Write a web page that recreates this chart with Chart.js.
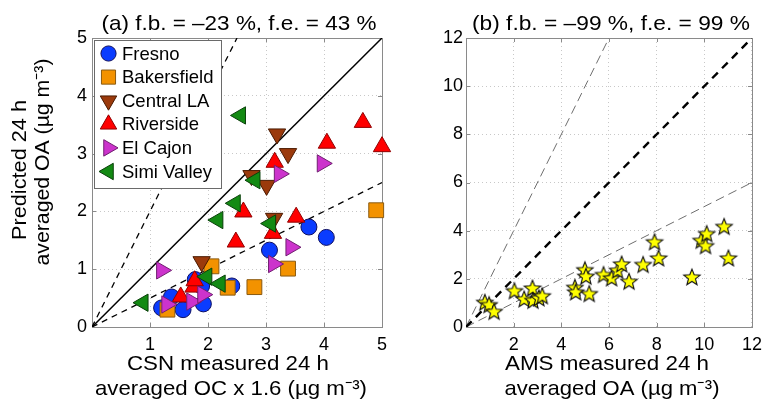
<!DOCTYPE html>
<html>
<head>
<meta charset="utf-8">
<script src="https://cdn.jsdelivr.net/npm/chart.js@4"></script>
<style>
body { margin: 0; background: #fff; }
#wrap { position: relative; width: 769px; height: 405px; }
#wrap canvas { position: absolute; left: 0; top: 0; }
</style>
</head>
<body>
<div id="wrap">
  <canvas id="chartA" width="769" height="405"></canvas>
  <canvas id="chartB" width="769" height="405"></canvas>
</div>
<script>
// ---- data ----
const siteNames = ['Fresno', 'Bakersfield', 'Central LA', 'Riverside', 'El Cajon', 'Simi Valley'];

const fresnoX = [1.20, 1.37, 1.57, 1.92, 1.78, 1.89, 2.41, 3.06, 3.74, 4.04];
const fresnoY = [0.33, 0.52, 0.30, 0.40, 0.82, 0.71, 0.71, 1.33, 1.73, 1.55];
const bakersfieldX = [1.30, 2.06, 2.34, 2.80, 3.38, 4.90];
const bakersfieldY = [0.30, 1.05, 0.68, 0.69, 1.01, 2.02];
const centralLAX = [1.89, 2.75, 3.01, 3.19, 3.38, 3.14];
const centralLAY = [1.13, 2.62, 2.45, 3.34, 3.00, 1.88];
const riversideX = [1.53, 1.75, 1.77, 2.48, 2.61, 3.12, 3.15, 3.52, 4.05, 4.67, 5.00];
const riversideY = [0.52, 0.69, 0.80, 1.47, 1.99, 1.62, 2.85, 1.90, 3.18, 3.54, 3.12];
const elCajonX = [1.20, 1.29, 1.72, 1.91, 3.13, 3.43, 3.23, 3.97];
const elCajonY = [0.98, 0.39, 0.44, 0.56, 1.09, 1.38, 2.65, 2.83];
const simiX = [0.88, 1.98, 2.21, 2.17, 2.47, 2.56, 2.81, 3.08];
const simiY = [0.42, 0.87, 0.75, 1.85, 2.14, 3.66, 2.54, 1.79];

const amsX = [0.79, 0.97, 1.18, 2.03, 2.44, 2.79, 2.81, 3.06, 3.20, 4.57, 4.60, 4.99, 5.03, 5.17,
              5.77, 6.11, 6.36, 6.53, 6.84, 7.43, 7.91, 8.08, 9.48, 9.87, 10.05, 10.10, 10.83, 11.01];
const predY = [1.03, 0.93, 0.65, 1.51, 1.17, 1.62, 1.11, 1.21, 1.30, 1.65, 1.46, 2.38, 2.11, 1.39,
               2.18, 2.04, 2.36, 2.62, 1.90, 2.60, 3.54, 2.87, 2.08, 3.60, 3.38, 3.88, 4.18, 2.87];

// reference lines as ratios predicted/measured
const refRatios = [1, 2, 0.5];

const ticksA = [0, 1, 2, 3, 4, 5];
const ticksB = [0, 2, 4, 6, 8, 10, 12];

const titleA = '(a) f.b. = \u201323 %, f.e. = 43 %';
const titleB = '(b) f.b. = \u201399 %, f.e. = 99 %';
const xTitleA = ['CSN measured 24 h', 'averaged OC x 1.6 (\u00b5g m\u207b\u00b3)'];
const xTitleB = ['AMS measured 24 h', 'averaged OA (\u00b5g m\u207b\u00b3)'];
const yTitleA = ['Predicted 24 h', 'averaged OA (\u00b5g m\u207b\u00b3)'];

// ---- styling ----
const FONT = "'Liberation Sans', Arial, Helvetica, sans-serif";
const markers = [
  { style: 'circle',   rot: 0,   r: 8,    fill: '#0a3cff', edge: '#101060' },
  { style: 'rect',     rot: 0,   r: 10.5, fill: '#f39200', edge: '#8a5a10' },
  { style: 'triangle', rot: 180, r: 10,   fill: '#9b3a0c', edge: '#4a1a00' },
  { style: 'triangle', rot: 0,   r: 10,   fill: '#ff0000', edge: '#900000' },
  { style: 'triangle', rot: 90,  r: 10,   fill: '#cc33cc', edge: '#702070' },
  { style: 'triangle', rot: 270, r: 10,   fill: '#138a13', edge: '#0a400a' }
];

function pairs(xs, ys) {
  return xs.map((x, i) => ({ x: x, y: ys[i] }));
}

function refLine(k, max) {
  const x = Math.min(max, max / k);
  return [{ x: 0, y: 0 }, { x: x, y: k * x }];
}

function makeStar(R, r) {
  const c = document.createElement('canvas');
  const s = Math.ceil(2 * R + 4);
  c.width = s; c.height = s;
  const g = c.getContext('2d');
  g.translate(s / 2, s / 2 + 0.8);
  g.beginPath();
  for (let i = 0; i < 10; i++) {
    const rad = i % 2 ? r : R;
    const a = -Math.PI / 2 + i * Math.PI / 5;
    g.lineTo(rad * Math.cos(a), rad * Math.sin(a));
  }
  g.closePath();
  g.fillStyle = '#ffff00';
  g.fill();
  g.lineWidth = 1.1;
  g.strokeStyle = '#111';
  g.stroke();
  return c;
}

function drawMarker(ctx, m, x, y) {
  ctx.save();
  ctx.beginPath();
  if (m.style === 'circle') {
    ctx.arc(x, y, m.r, 0, Math.PI * 2);
  } else if (m.style === 'rect') {
    const h = m.r * Math.SQRT1_2;
    ctx.rect(x - h, y - h, 2 * h, 2 * h);
  } else {
    let a = m.rot * Math.PI / 180;
    ctx.moveTo(x + Math.sin(a) * m.r, y - Math.cos(a) * m.r);
    a += Math.PI * 2 / 3;
    ctx.lineTo(x + Math.sin(a) * m.r, y - Math.cos(a) * m.r);
    a += Math.PI * 2 / 3;
    ctx.lineTo(x + Math.sin(a) * m.r, y - Math.cos(a) * m.r);
    ctx.closePath();
  }
  ctx.fillStyle = m.fill;
  ctx.fill();
  ctx.lineWidth = 1;
  ctx.strokeStyle = m.edge;
  ctx.stroke();
  ctx.restore();
}

// draw text stretched to a target width (rotated if vertical)
function fitText(ctx, text, cx, cy, w, size, vertical) {
  ctx.save();
  ctx.font = size + 'px ' + FONT;
  const m = ctx.measureText(text).width;
  ctx.translate(cx, cy);
  if (vertical) ctx.rotate(-Math.PI / 2);
  ctx.scale(w / m, 1);
  ctx.fillStyle = '#000';
  ctx.textAlign = 'center';
  ctx.textBaseline = 'middle';
  ctx.fillText(text, 0, 0);
  ctx.restore();
}

function frame(chart, tickVals) {
  const ctx = chart.ctx;
  const a = chart.chartArea;
  const sx = chart.scales.x, sy = chart.scales.y;
  ctx.save();
  ctx.strokeStyle = '#8a8a8a';
  ctx.lineWidth = 1;
  ctx.strokeRect(Math.round(a.left) + 0.5, Math.round(a.top) + 0.5,
                 Math.round(a.right - a.left), Math.round(a.bottom - a.top));
  ctx.beginPath();
  tickVals.x.forEach(v => {
    const px = Math.round(sx.getPixelForValue(v)) + 0.5;
    ctx.moveTo(px, a.bottom); ctx.lineTo(px, a.bottom - 4);
    ctx.moveTo(px, a.top); ctx.lineTo(px, a.top + 4);
  });
  tickVals.y.forEach(v => {
    const py = Math.round(sy.getPixelForValue(v)) + 0.5;
    ctx.moveTo(a.left, py); ctx.lineTo(a.left + 4, py);
    ctx.moveTo(a.right, py); ctx.lineTo(a.right - 4, py);
  });
  ctx.stroke();
  ctx.restore();
}

function scaleOpts(max, step, hideZero, fitSize, isX, pad) {
  return {
    type: 'linear', min: 0, max: max,
    afterFit: s => { if (isX) s.height = fitSize; else s.width = fitSize; },
    ticks: {
      stepSize: step, padding: pad, color: '#000',
      font: { family: FONT, size: 18 },
      callback: v => (hideZero && v === 0) ? '' : v
    },
    grid: { color: '#c8c8c8', lineWidth: 1, drawTicks: false },
    border: { display: false, dash: [1, 3] }
  };
}

// ---- panel (a) ----
const datasetsA = [
  [fresnoX, fresnoY], [bakersfieldX, bakersfieldY], [centralLAX, centralLAY],
  [riversideX, riversideY], [elCajonX, elCajonY], [simiX, simiY]
].map((d, i) => ({
  label: siteNames[i],
  data: pairs(d[0], d[1]),
  pointStyle: markers[i].style,
  rotation: markers[i].rot,
  pointRadius: markers[i].r,
  backgroundColor: markers[i].fill,
  borderColor: markers[i].edge,
  borderWidth: 1,
  clip: false,
  order: 6 - i
}));

const lineStylesA = [
  { color: '#000', width: 1.5, dash: [] },
  { color: '#000', width: 1.3, dash: [6, 5] },
  { color: '#000', width: 1.3, dash: [6, 5] }
];
refRatios.forEach((k, i) => {
  datasetsA.push({
    type: 'line', data: refLine(k, 5), showLine: true, pointRadius: 0,
    borderColor: lineStylesA[i].color, borderWidth: lineStylesA[i].width,
    borderDash: lineStylesA[i].dash, order: 10, fill: false
  });
});

new Chart(document.getElementById('chartA'), {
  type: 'scatter',
  data: { datasets: datasetsA },
  options: {
    responsive: false, animation: false, events: [],
    layout: { padding: { left: 52, right: 387, top: 38, bottom: 48 } },
    plugins: { legend: { display: false }, tooltip: { enabled: false } },
    scales: { x: scaleOpts(5, 1, true, 30, true, 7), y: scaleOpts(5, 1, false, 40, false, 5) }
  },
  plugins: [{
    id: 'decorA',
    beforeDatasetsDraw(chart) { frame(chart, { x: ticksA, y: ticksA }); },
    afterDraw(chart) {
      const ctx = chart.ctx;
      fitText(ctx, titleA, 239, 24, 275, 21);
      fitText(ctx, xTitleA[0], 228, 364, 202, 21);
      fitText(ctx, xTitleA[1], 231, 389, 272, 21);
      fitText(ctx, yTitleA[0], 20, 170, 140, 21, true);
      fitText(ctx, yTitleA[1], 43, 162, 207, 21, true);
      // legend box
      ctx.save();
      ctx.fillStyle = '#fff';
      ctx.strokeStyle = '#6a6a6a';
      ctx.lineWidth = 1;
      ctx.fillRect(94.5, 40.5, 127, 148);
      ctx.strokeRect(94.5, 40.5, 127, 148);
      ctx.font = '18.5px ' + FONT;
      ctx.fillStyle = '#000';
      ctx.textBaseline = 'middle';
      siteNames.forEach((n, i) => {
        const y = 53.5 + i * 23.6;
        const m = Object.assign({}, markers[i], { r: markers[i].r * 0.95 });
        drawMarker(ctx, m, 108.5, y);
        ctx.fillText(n, 122, y + 1);
      });
      ctx.restore();
    }
  }]
});

// ---- panel (b) ----
const starImg = makeStar(8.6, 3.7);
const datasetsB = [{
  label: 'AMS',
  data: pairs(amsX, predY),
  pointStyle: starImg,
  pointRadius: 8,
  clip: false,
  order: 0
}];
const lineStylesB = [
  { color: '#000', width: 2.4, dash: [8, 6] },
  { color: '#6e6e6e', width: 1, dash: [9, 5] },
  { color: '#6e6e6e', width: 1, dash: [9, 5] }
];
refRatios.forEach((k, i) => {
  datasetsB.push({
    type: 'line', data: refLine(k, 12), showLine: true, pointRadius: 0,
    borderColor: lineStylesB[i].color, borderWidth: lineStylesB[i].width,
    borderDash: lineStylesB[i].dash, order: 10, fill: false
  });
});

new Chart(document.getElementById('chartB'), {
  type: 'scatter',
  data: { datasets: datasetsB },
  options: {
    responsive: false, animation: false, events: [],
    layout: { padding: { left: 426, right: 12, top: 38, bottom: 48 } },
    plugins: { legend: { display: false }, tooltip: { enabled: false } },
    scales: { x: scaleOpts(12, 2, true, 30, true, 7), y: scaleOpts(12, 2, false, 40, false, 3) }
  },
  plugins: [{
    id: 'decorB',
    beforeDatasetsDraw(chart) { frame(chart, { x: ticksB, y: ticksB }); },
    afterDraw(chart) {
      const ctx = chart.ctx;
      fitText(ctx, titleB, 611, 24, 278, 21);
      fitText(ctx, xTitleB[0], 607, 364, 204, 21);
      fitText(ctx, xTitleB[1], 612, 389, 215, 21);
    }
  }]
});
</script>
</body>
</html>
